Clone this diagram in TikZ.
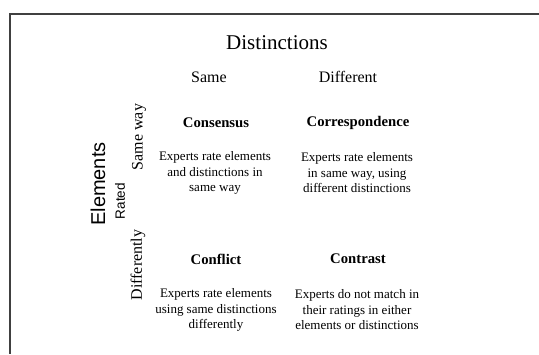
\documentclass[tikz,border=0pt]{standalone}
\usepackage{fontspec}
\setmainfont{Liberation Serif}
\setsansfont{Liberation Sans}
\tikzset{
  frameline/.style={line width=1.8pt, draw=black!75},
  bigtitle/.style={font=\fontsize{21}{24}\selectfont, inner sep=0pt},
  colhead/.style={font=\fontsize{16}{18}\selectfont, inner sep=0pt},
  rowhead/.style={font=\fontsize{16}{18}\selectfont, inner sep=0pt, rotate=90},
  elemlabel/.style={font=\sffamily\fontsize{20}{22}\selectfont, inner sep=0pt, rotate=90},
  ratedlabel/.style={font=\sffamily\fontsize{13.5}{15}\selectfont, inner sep=0pt, rotate=90},
  celltitle/.style={font=\fontsize{14.7}{17}\selectfont\bfseries, inner sep=0pt},
  cellbody/.style={font=\fontsize{13}{15.5}\selectfont, align=center, inner sep=0pt}
}
\begin{document}
\begin{tikzpicture}[x=1pt,y=-1pt]
\useasboundingbox (0,0) rectangle (539,354);
\fill[white] (0,0) rectangle (539,354);
\coordinate (tr) at (539,14);
\coordinate (tl) at (10,14);
\coordinate (bl) at (10,354);
\draw[frameline] (tr) -- (tl) -- (bl);

\node[bigtitle] (dist) at (277,43) {Distinctions};
\node[colhead] (same) at (209,77) {Same};
\node[colhead] (diff) at (348,77) {Different};

\node[elemlabel] (elem) at (98,184) {Elements};
\node[ratedlabel] (rated) at (120,201) {Rated};
\node[rowhead] (sameway) at (139,137) {Same way};
\node[rowhead] (differently) at (138,265) {Differently};

\node[celltitle] (t1) at (216,123) {Consensus};
\node[celltitle] (t2) at (358,123) {Correspondence};
\node[celltitle] (t3) at (216,259) {Conflict};
\node[celltitle] (t4) at (358,259) {Contrast};

\node[cellbody] (b1) at (215,173) {Experts rate elements\\and distinctions in\\same way};
\node[cellbody] (b2) at (357,173) {Experts rate elements\\in same way, using\\different distinctions};
\node[cellbody] (b3) at (216,310) {Experts rate elements\\using same distinctions\\differently};
\node[cellbody] (b4) at (357,310) {Experts do not match in\\their ratings in either\\elements or distinctions};
\end{tikzpicture}
\end{document}
